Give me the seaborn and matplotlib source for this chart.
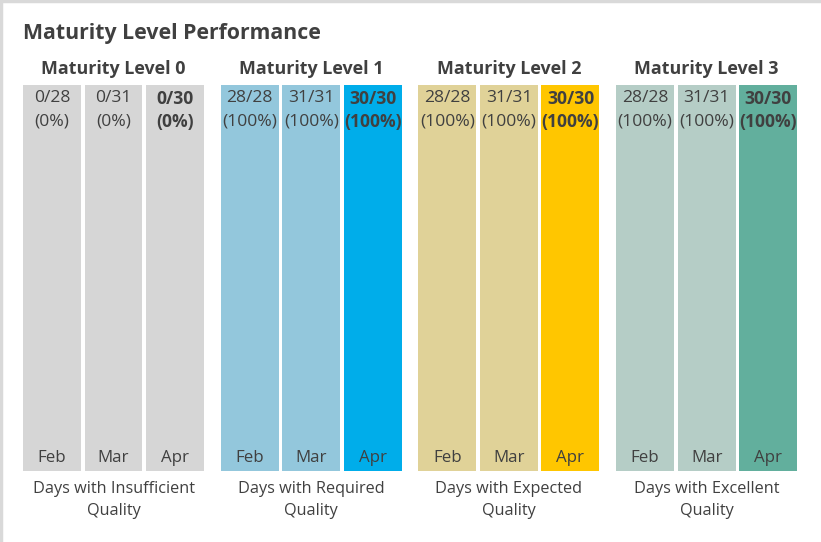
import matplotlib
matplotlib.use("Agg")
import matplotlib.pyplot as plt
from matplotlib.lines import Line2D
import seaborn as sns
import pandas as pd

# ---- data ----
levels = ["Maturity Level 0", "Maturity Level 1", "Maturity Level 2", "Maturity Level 3"]
categories = ["Days with Insufficient\nQuality", "Days with Required\nQuality",
              "Days with Expected\nQuality", "Days with Excellent\nQuality"]
months = ["Feb", "Mar", "Apr"]
days_total = [28, 31, 30]
days_met_l0 = [0, 0, 0]
days_met_l1 = [28, 31, 30]
days_met_l2 = [28, 31, 30]
days_met_l3 = [28, 31, 30]
days_met = [days_met_l0, days_met_l1, days_met_l2, days_met_l3]
colors_l0 = ["#d6d6d6", "#d6d6d6", "#d6d6d6"]
colors_l1 = ["#93c7dc", "#93c7dc", "#00adea"]
colors_l2 = ["#e0d298", "#e0d298", "#ffc600"]
colors_l3 = ["#b5cdc6", "#b5cdc6", "#62af9d"]
level_colors = [colors_l0, colors_l1, colors_l2, colors_l3]

TXT = "#404040"
FONT = ["Open Sans", "DejaVu Sans"]

sns.set_theme(style="white")
plt.rcParams["font.family"] = FONT

GROUP_PITCH = 3.215
rows = []
palette = {}
for g, lvl in enumerate(levels):
    for i, m in enumerate(months):
        key = f"{lvl}|{m}"
        rows.append({"pos": g * GROUP_PITCH + i, "tile": days_total[i] / days_total[i],
                     "key": key, "level": g, "month": i})
        palette[key] = level_colors[g][i]
df = pd.DataFrame(rows)

fig = plt.figure(figsize=(8.21, 5.42), dpi=100)
ax = fig.add_axes([23 / 821, 71 / 542, (797 - 23) / 821, 386 / 542])

sns.barplot(data=df, x="pos", y="tile", hue="key", palette=palette, dodge=False,
            native_scale=True, width=0.943, legend=False, ax=ax, linewidth=0,
            saturation=1)

ax.set_xlim(-29 / 61.5, (797 - 52) / 61.5)
ax.set_ylim(0, 1)
ax.axis("off")

for _, r in df.iterrows():
    g, i = int(r["level"]), int(r["month"])
    met = days_met[g][i]
    tot = days_total[i]
    pct = round(100 * met / tot)
    weight = "bold" if i == 2 else "normal"
    ax.text(r["pos"], (471 - 98.5) / 386, f"{met}/{tot}", ha="center", va="center",
            fontsize=12.6, color=TXT, fontweight=weight)
    ax.text(r["pos"], (471 - 122) / 386, f"({pct}%)", ha="center", va="center",
            fontsize=12.6, color=TXT, fontweight=weight)
    ax.text(r["pos"], (471 - 458) / 386, months[i], ha="center", va="center",
            fontsize=12.2, color=TXT)

for g, lvl in enumerate(levels):
    cx = g * GROUP_PITCH + 1
    ax.text(cx, (471 - 69) / 386, lvl, ha="center", va="center", fontsize=12.9,
            fontweight="bold", color=TXT)
    ax.text(cx, (471 - 500) / 386, categories[g], ha="center", va="center",
            fontsize=11.7, color=TXT, linespacing=1.55)

fig.text(23 / 821, 1 - 34 / 542, "Maturity Level Performance", ha="left", va="center",
         fontsize=15.3, fontweight="bold", color=TXT)

fig.add_artist(Line2D([0, 1], [1 - 1 / 542, 1 - 1 / 542], transform=fig.transFigure,
                      color="#d9d9d9", lw=2.5))
fig.add_artist(Line2D([1 / 821, 1 / 821], [0, 1], transform=fig.transFigure,
                      color="#d9d9d9", lw=2.5))

fig.savefig("out.png", dpi=100)
